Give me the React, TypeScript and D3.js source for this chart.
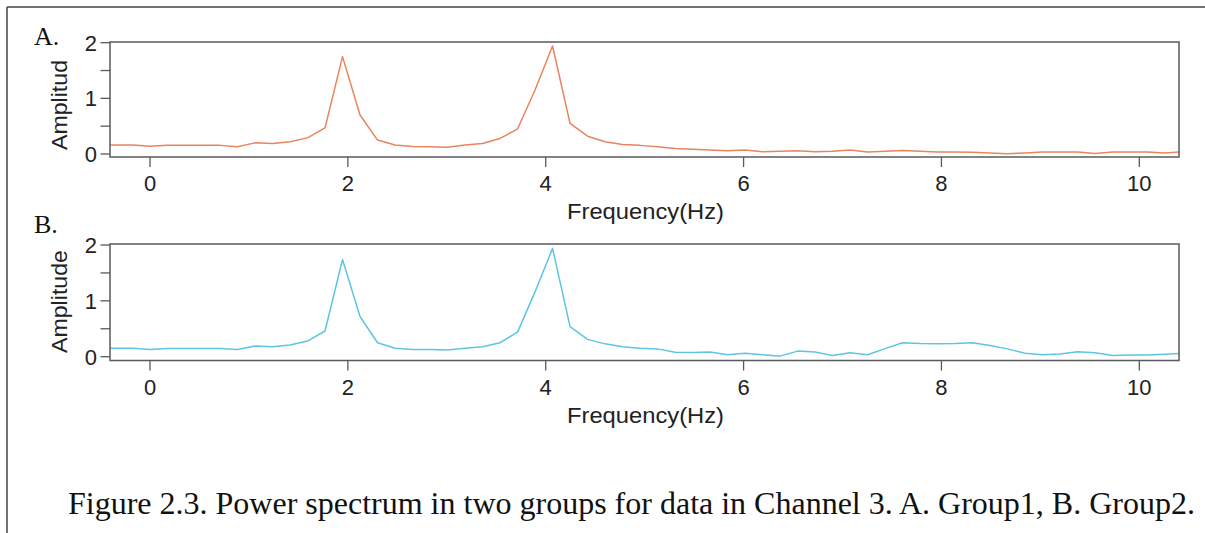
import React from "react";
import * as d3 from "d3";

// Frequency grid (Hz) of the power spectrum bins
const frequencies: number[] = [
  -0.531, -0.354, -0.177, 0, 0.177, 0.354, 0.531, 0.708, 0.885, 1.061,
  1.238, 1.415, 1.592, 1.769, 1.946, 2.123, 2.3, 2.477, 2.654, 2.83,
  3.007, 3.184, 3.361, 3.538, 3.715, 3.892, 4.069, 4.246, 4.423, 4.599,
  4.776, 4.953, 5.13, 5.307, 5.484, 5.661, 5.838, 6.015, 6.192, 6.368,
  6.545, 6.722, 6.899, 7.076, 7.253, 7.43, 7.607, 7.784, 7.961, 8.137,
  8.314, 8.491, 8.668, 8.845, 9.022, 9.199, 9.376, 9.553, 9.73, 9.906,
  10.083, 10.26, 10.437,
];

// Group 1 amplitude
const group1: number[] = [
  0.16, 0.16, 0.16, 0.14, 0.155, 0.155, 0.155, 0.155, 0.13, 0.2,
  0.19, 0.22, 0.29, 0.47, 1.75, 0.7, 0.25, 0.16, 0.135, 0.13,
  0.12, 0.16, 0.19, 0.28, 0.45, 1.15, 1.94, 0.55, 0.32, 0.22,
  0.17, 0.155, 0.13, 0.1, 0.085, 0.07, 0.06, 0.07, 0.04, 0.05,
  0.06, 0.04, 0.05, 0.07, 0.035, 0.05, 0.065, 0.05, 0.035, 0.035,
  0.03, 0.02, 0.005, 0.02, 0.035, 0.035, 0.035, 0.01, 0.035, 0.035,
  0.035, 0.02, 0.04,
];

// Group 2 amplitude
const group2: number[] = [
  0.15, 0.15, 0.15, 0.13, 0.145, 0.145, 0.145, 0.145, 0.13, 0.19,
  0.18, 0.21, 0.28, 0.46, 1.74, 0.72, 0.25, 0.15, 0.13, 0.13,
  0.12, 0.15, 0.18, 0.25, 0.44, 1.16, 1.94, 0.54, 0.31, 0.23,
  0.18, 0.15, 0.14, 0.08, 0.075, 0.085, 0.035, 0.06, 0.035, 0.01,
  0.1, 0.085, 0.02, 0.07, 0.035, 0.145, 0.25, 0.235, 0.23, 0.235,
  0.25, 0.2, 0.14, 0.06, 0.035, 0.05, 0.09, 0.07, 0.02, 0.03,
  0.03, 0.045, 0.06,
];

const xTicks: number[] = [0, 2, 4, 6, 8, 10];
const yTicks: number[] = [0, 0.5, 1, 1.5, 2];
const yLabels: number[] = [0, 1, 2];

const SANS = "'Liberation Sans', Arial, Helvetica, sans-serif";
const SERIF = "'Liberation Serif', 'Times New Roman', serif";

type PanelProps = {
  id: string;
  letter: string;
  ylabel: string;
  ylabelLen: number;
  ylabelStart: number;
  values: number[];
  color: string;
  top: number;
  bottom: number;
  zeroY: number;
  twoY: number;
  letterY: number;
};

const LEFT = 110;
const RIGHT = 1179;

function Panel(p: PanelProps) {
  const x = d3.scaleLinear().domain([0, 10]).range([150, 1139.3]);
  const y = d3.scaleLinear().domain([0, 2]).range([p.zeroY, p.twoY]);
  const pts = frequencies.map((f, i) => [f, p.values[i]] as [number, number]);
  const line = d3
    .line<[number, number]>()
    .x((d) => x(d[0]))
    .y((d) => y(d[1]));
  const axisColor = "#5a5a5a";
  const textColor = "#222";
  return (
    <g>
      <defs>
        <clipPath id={p.id}>
          <rect x={LEFT} y={p.top} width={RIGHT - LEFT} height={p.bottom - p.top} />
        </clipPath>
      </defs>
      <path
        d={line(pts) || ""}
        fill="none"
        stroke={p.color}
        strokeWidth={1.5}
        strokeLinejoin="round"
        clipPath={`url(#${p.id})`}
      />
      <rect
        x={LEFT}
        y={p.top}
        width={RIGHT - LEFT}
        height={p.bottom - p.top}
        fill="none"
        stroke={axisColor}
        strokeWidth={1.5}
      />
      {yTicks.map((t) => (
        <line key={"yt" + t} x1={100.5} x2={LEFT} y1={y(t)} y2={y(t)} stroke={axisColor} strokeWidth={1.3} />
      ))}
      {yLabels.map((t) => (
        <text
          key={"yl" + t}
          x={97}
          y={y(t)}
          dy="0.36em"
          textAnchor="end"
          fontFamily={SANS}
          fontSize={22}
          fill={textColor}
        >
          {t}
        </text>
      ))}
      {xTicks.map((t) => (
        <g key={"xt" + t}>
          <line x1={x(t)} x2={x(t)} y1={p.bottom} y2={p.bottom + 10} stroke={axisColor} strokeWidth={1.3} />
          <text
            x={x(t)}
            y={p.bottom + 34}
            textAnchor="middle"
            fontFamily={SANS}
            fontSize={22}
            fill={textColor}
          >
            {t}
          </text>
        </g>
      ))}
      <text
        x={645.5}
        y={p.bottom + 62}
        textAnchor="middle"
        fontFamily={SANS}
        fontSize={22}
        fill={textColor}
        textLength={157}
        lengthAdjust="spacingAndGlyphs"
      >
        Frequency(Hz)
      </text>
      <text
        transform={`translate(67,${p.ylabelStart}) rotate(-90)`}
        textAnchor="start"
        fontFamily={SANS}
        fontSize={22}
        fill={textColor}
        textLength={p.ylabelLen}
        lengthAdjust="spacingAndGlyphs"
      >
        {p.ylabel}
      </text>
      <text x={34} y={p.letterY} fontFamily={SERIF} fontSize={26} fill="#111">
        {p.letter}
      </text>
    </g>
  );
}

export default function App() {
  return (
    <svg
      width={1205}
      height={533}
      style={{ position: "absolute", left: 0, top: 0, background: "#fff" }}
    >
      <rect x={0} y={0} width={1205} height={533} fill="#fff" />
      <line x1={7} x2={1205} y1={7} y2={7} stroke="#444" strokeWidth={1.5} />
      <line x1={7} x2={7} y1={7} y2={533} stroke="#444" strokeWidth={1.5} />
      <Panel
        id="clipA"
        letter="A."
        ylabel="Amplitud"
        ylabelLen={90}
        ylabelStart={150}
        values={group1}
        color="#E8855F"
        top={42}
        bottom={157}
        zeroY={154}
        twoY={42.7}
        letterY={45}
      />
      <Panel
        id="clipB"
        letter="B."
        ylabel="Amplitude"
        ylabelLen={103}
        ylabelStart={353}
        values={group2}
        color="#5EC4E6"
        top={244}
        bottom={360.5}
        zeroY={356.7}
        twoY={245}
        letterY={233}
      />
      <text
        x={68}
        y={514}
        fontFamily={SERIF}
        fontSize={31}
        fill="#111"
        textLength={1127}
        lengthAdjust="spacingAndGlyphs"
      >
        Figure 2.3. Power spectrum in two groups for data in Channel 3. A. Group1, B. Group2.
      </text>
    </svg>
  );
}
